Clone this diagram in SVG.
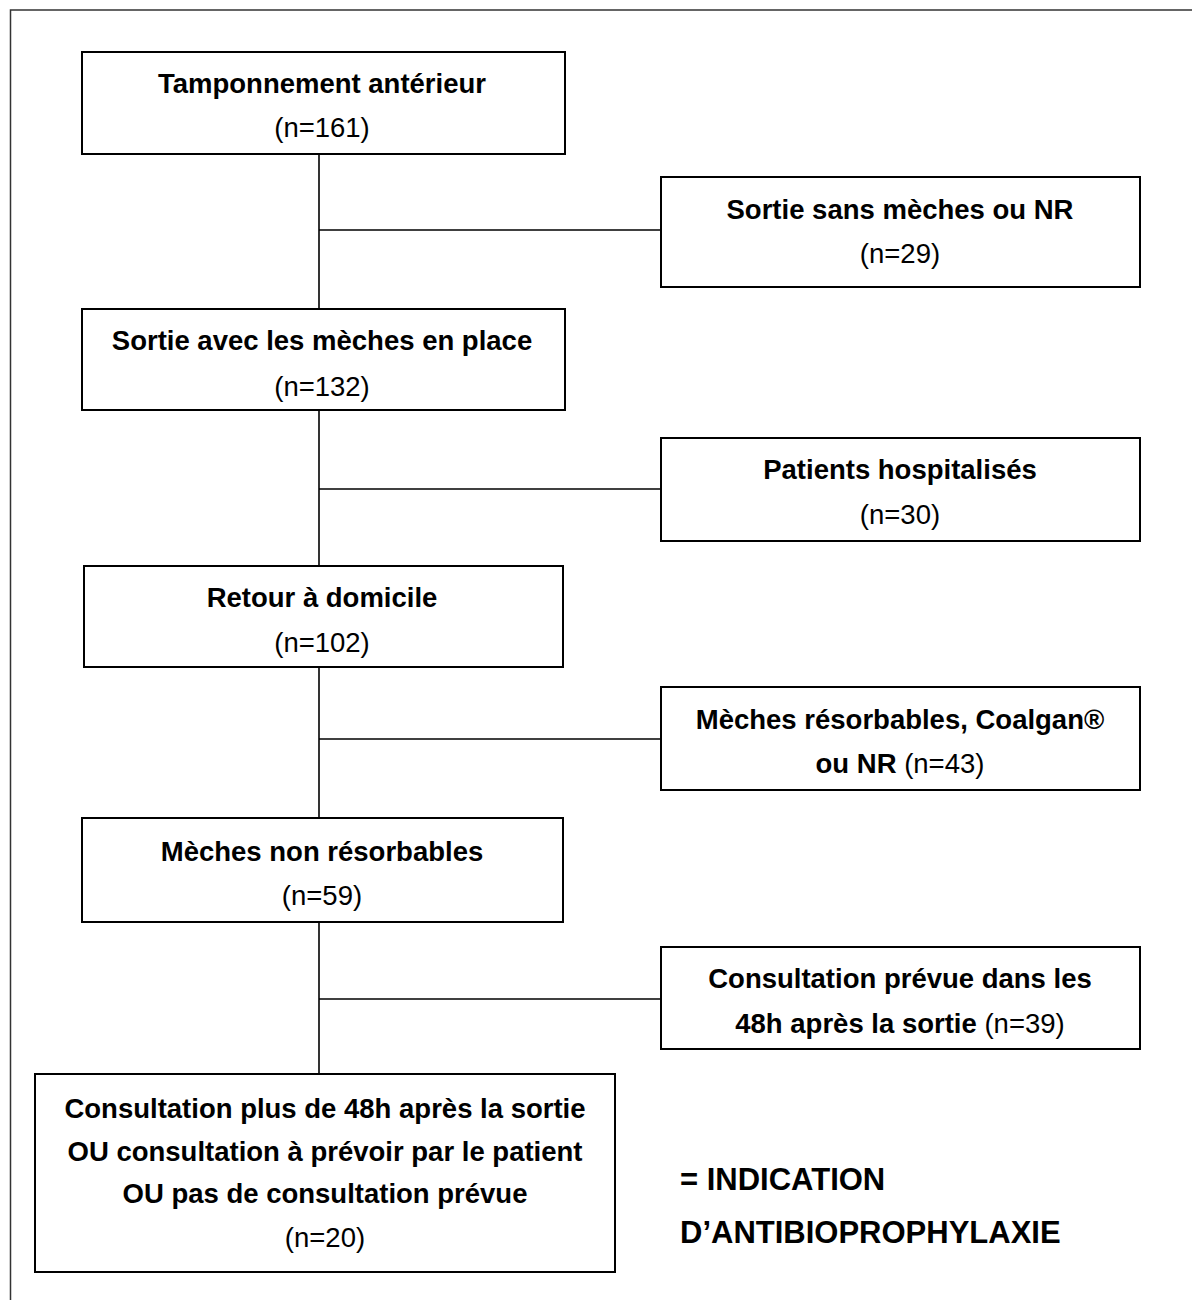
<svg xmlns="http://www.w3.org/2000/svg" width="1192" height="1300" viewBox="0 0 1192 1300">
<style>
.box{fill:#fff;stroke:#000;stroke-width:2}
.ln{stroke:#000;stroke-width:1.6;fill:none}
text{font-family:"Liberation Sans",Arial,sans-serif;font-size:27.5px;fill:#000;text-anchor:middle}
.b{font-weight:bold}
.big{font-weight:bold;font-size:31px;text-anchor:start}
</style>
<rect width="1192" height="1300" fill="#fff"/>
<path d="M10.5 1300 V10 H1192" fill="none" stroke="#333" stroke-width="1.5"/>
<g id="connectors">
<line class="ln" x1="319" y1="154" x2="319" y2="309"/>
<line class="ln" x1="319" y1="230" x2="661" y2="230"/>
<line class="ln" x1="319" y1="410" x2="319" y2="566"/>
<line class="ln" x1="319" y1="489" x2="661" y2="489"/>
<line class="ln" x1="319" y1="667" x2="319" y2="818"/>
<line class="ln" x1="319" y1="739" x2="667" y2="739"/>
<line class="ln" x1="319" y1="922" x2="319" y2="1074"/>
<line class="ln" x1="319" y1="999" x2="667" y2="999"/>
</g>
<g id="n1"><rect class="box" x="82" y="52" width="483" height="102"/>
<text class="b" x="322" y="93">Tamponnement antérieur</text><text x="322" y="137">(n=161)</text></g>
<g id="n2"><rect class="box" x="661" y="177" width="479" height="110"/>
<text class="b" x="900" y="219">Sortie sans mèches ou NR</text><text x="900" y="263">(n=29)</text></g>
<g id="n3"><rect class="box" x="82" y="309" width="483" height="101"/>
<text class="b" x="322" y="350">Sortie avec les mèches en place</text><text x="322" y="396">(n=132)</text></g>
<g id="n4"><rect class="box" x="661" y="438" width="479" height="103"/>
<text class="b" x="900" y="479">Patients hospitalisés</text><text x="900" y="524">(n=30)</text></g>
<g id="n5"><rect class="box" x="84" y="566" width="479" height="101"/>
<text class="b" x="322" y="607">Retour à domicile</text><text x="322" y="652">(n=102)</text></g>
<g id="n6"><rect class="box" x="661" y="687" width="479" height="103"/>
<text class="b" x="900" y="729">Mèches résorbables, Coalgan®</text><text x="900" y="773"><tspan class="b">ou NR</tspan> (n=43)</text></g>
<g id="n7"><rect class="box" x="82" y="818" width="481" height="104"/>
<text class="b" x="322" y="861">Mèches non résorbables</text><text x="322" y="905">(n=59)</text></g>
<g id="n8"><rect class="box" x="661" y="947" width="479" height="102"/>
<text class="b" x="900" y="988">Consultation prévue dans les</text><text x="900" y="1033"><tspan class="b">48h après la sortie</tspan> (n=39)</text></g>
<g id="n9"><rect class="box" x="35" y="1074" width="580" height="198"/>
<text class="b" x="325" y="1118">Consultation plus de 48h après la sortie</text>
<text class="b" x="325" y="1161">OU consultation à prévoir par le patient</text>
<text class="b" x="325" y="1203">OU pas de consultation prévue</text>
<text x="325" y="1247">(n=20)</text></g>
<g id="note"><text class="big" x="680" y="1190">= INDICATION</text>
<text class="big" x="680" y="1243">D’ANTIBIOPROPHYLAXIE</text></g>
</svg>
